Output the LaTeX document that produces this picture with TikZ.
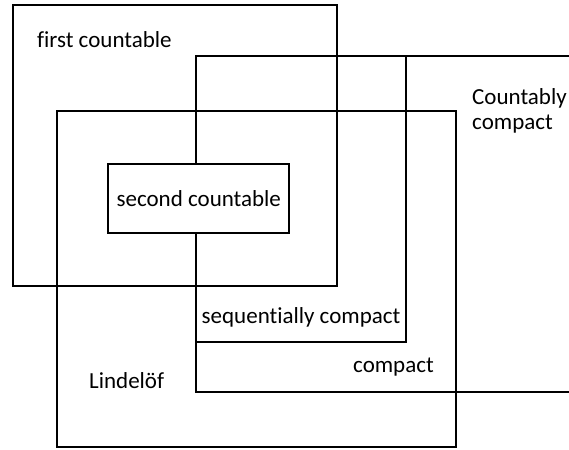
\documentclass[tikz,border=0pt]{standalone}
\usepackage{fontspec}
\setmainfont[Ligatures={NoCommon}]{Carlito}
\usepackage{tikz}

\begin{document}
\begin{tikzpicture}[x=1bp, y=-1bp,
    setline/.style={black, line width=2bp},
    lbl/.style={font=\fontsize{23bp}{25bp}\selectfont, inner sep=0pt, text=black}]
  \useasboundingbox (0,0) rectangle (569,450);
  % the sets
  \draw[setline] (12.5,5.5) rectangle (336.7,285.7);
  \draw[setline] (56.7,111) rectangle (456,446.7);
  \draw[setline] (195.5,56) rectangle (405.7,342.3);
  \draw[setline] (569,56) -- (195.5,56) -- (195.5,392.3) -- (569,392.3);
  \node[setline, lbl, draw, fill=white, minimum width=181bp, minimum height=69bp] (second) at (198.8,198.8) {second countable};
  % labels
  \node[lbl, anchor=base west] (first) at (37,48) {first countable};
  \node[lbl, anchor=base west, align=left] (countably) at (472,130) {Countably\\compact};
  \node[lbl, anchor=base west] (sequentially) at (201.5,323) {sequentially compact};
  \node[lbl, anchor=base west] (compact) at (353,372) {compact};
  \node[lbl, anchor=base west] (lindelof) at (89,388) {Lindelöf};
\end{tikzpicture}
\end{document}
